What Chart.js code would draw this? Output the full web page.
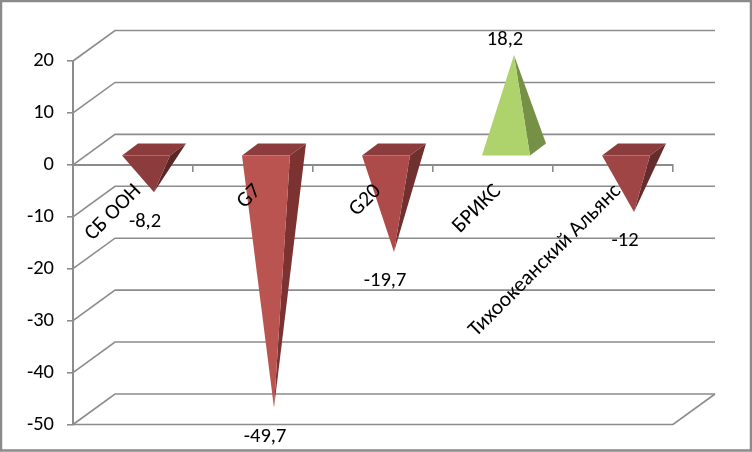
<!DOCTYPE html>
<html><head><meta charset="utf-8">
<style>html,body{margin:0;padding:0;background:#fff}canvas{display:block}</style>
<script src="https://cdn.jsdelivr.net/npm/chart.js@4/dist/chart.umd.min.js"></script>
</head><body><canvas id="c" width="752" height="452"></canvas>
<script>
const categories = ['СБ ООН', 'G7', 'G20', 'БРИКС', 'Тихоокеанский Альянс'];
const values = [-8.2, -49.7, -19.7, 18.2, -12];
const yTicks = [20, 10, 0, -10, -20, -30, -40, -50];

const frontColors = ['#8c3c3c', '#b95450', '#ad4b4a', '#aed26c', '#9f4545'];
const sideColors  = ['#5a2626', '#7b3230', '#703030', '#769045', '#642c2c'];
const topColors   = ['#8c3c3c', '#8c3c3c', '#8c3c3c', '#aed26c', '#8c3c3c'];
const GRID = '#8c8c8c', FRAME = '#8a8a8a', FAMILY = 'Carlito, Lato, sans-serif';
const WALL_DX = 42, WALL_DY = -30.5;   // depth of the 3D box
const HALF_W = 24, BASE_DX = 8, BASE_DY = 6; // pyramid base half sizes

function poly(ctx, pts, fill) {
  ctx.beginPath();
  pts.forEach((p, i) => i ? ctx.lineTo(p[0], p[1]) : ctx.moveTo(p[0], p[1]));
  ctx.closePath();
  ctx.fillStyle = fill;
  ctx.fill();
}

const box3d = {
  id: 'box3d',
  beforeDraw(chart) {
    const ctx = chart.ctx, y = chart.scales.y, a = chart.chartArea;
    ctx.save();
    ctx.fillStyle = '#fff';
    ctx.fillRect(0, 0, chart.width, chart.height);
    ctx.strokeStyle = GRID;
    ctx.lineWidth = 1.6;
    yTicks.forEach(v => {
      const py = y.getPixelForValue(v);
      ctx.beginPath();
      ctx.moveTo(a.left, py);
      ctx.lineTo(a.left + WALL_DX, py + WALL_DY);
      ctx.lineTo(a.right + WALL_DX, py + WALL_DY);
      ctx.stroke();
    });
    // floor
    const fy = y.getPixelForValue(-50);
    ctx.beginPath();
    ctx.moveTo(a.left, fy);
    ctx.lineTo(a.right, fy);
    ctx.lineTo(a.right + WALL_DX, fy + WALL_DY);
    ctx.stroke();
    ctx.restore();
  },
  afterDatasetsDraw(chart) {
    const ctx = chart.ctx, y = chart.scales.y;
    const zero = y.getPixelForValue(0);
    const meta = chart.getDatasetMeta(0);
    ctx.save();
    meta.data.forEach((bar, i) => {
      const cx = bar.x + WALL_DX / 2, cy = zero + WALL_DY / 2;
      const tip = [cx, y.getPixelForValue(values[i]) + WALL_DY / 2];
      const fl = [cx - HALF_W - BASE_DX, cy + BASE_DY], fr = [cx + HALF_W - BASE_DX, cy + BASE_DY];
      const bl = [cx - HALF_W + BASE_DX, cy - BASE_DY], br = [cx + HALF_W + BASE_DX, cy - BASE_DY];
      if (values[i] < 0) poly(ctx, [fl, bl, br, fr], topColors[i]);
      poly(ctx, [fr, br, tip], sideColors[i]);
      poly(ctx, [fl, fr, tip], frontColors[i]);
    });
    // value labels
    ctx.fillStyle = '#000';
    ctx.font = '20.5px ' + FAMILY;
    ctx.textAlign = 'center';
    ctx.textBaseline = 'middle';
    meta.data.forEach((bar, i) => {
      const v = values[i];
      const txt = String(v).replace('.', ',');
      const py = y.getPixelForValue(v);
      ctx.fillText(txt, bar.x + 12, py + (v < 0 ? 14 : -30));
    });
    // outer frame
    ctx.strokeStyle = FRAME;
    ctx.lineWidth = 2.5;
    ctx.strokeRect(1, 1, chart.width - 2, chart.height - 2.5);
    ctx.restore();
  }
};

new Chart(document.getElementById('c'), {
  type: 'bar',
  data: {
    labels: categories,
    datasets: [{ data: values, backgroundColor: 'rgba(0,0,0,0)', borderWidth: 0 }]
  },
  options: {
    responsive: false,
    animation: false,
    devicePixelRatio: 1,
    layout: { padding: { top: 61, right: 79, bottom: 27.5, left: 0 } },
    plugins: { legend: { display: false }, title: { display: false }, tooltip: { enabled: false } },
    scales: {
      x: {
        position: { y: 0 },
        offset: true,
        grid: { display: true, drawOnChartArea: false, drawTicks: true, tickLength: 6, color: GRID, lineWidth: 1.6, offset: true },
        border: { display: true, color: GRID, width: 2 },
        ticks: {
          color: '#000', font: { family: FAMILY, size: 21.5 },
          minRotation: 45, maxRotation: 45, autoSkip: false, padding: 8, labelOffset: 5, z: 1
        }
      },
      y: {
        min: -50, max: 20,
        afterFit(s) { s.width = 73; },
        grid: { display: true, drawOnChartArea: false, tickLength: 6, color: GRID, lineWidth: 1.6 },
        border: { display: true, color: GRID, width: 2 },
        ticks: {
          color: '#000', font: { family: FAMILY, size: 20.5 },
          stepSize: 10, padding: 13
        }
      }
    }
  },
  plugins: [box3d]
});
</script></body></html>
